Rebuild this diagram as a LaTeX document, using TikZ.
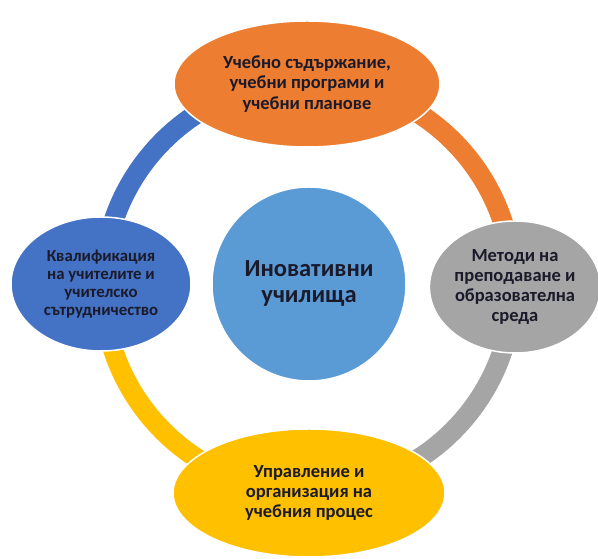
\documentclass[tikz,border=0pt]{standalone}
\usepackage{fontspec}
\setmainfont{Carlito}
\usetikzlibrary{shapes.geometric,backgrounds}
\definecolor{cOrange}{HTML}{ED7D31}
\definecolor{cGray}{HTML}{A5A5A5}
\definecolor{cYellow}{HTML}{FFC000}
\definecolor{cBlue}{HTML}{4472C4}
\definecolor{cCenter}{HTML}{5B9BD5}
\definecolor{cText}{HTML}{1A1A2A}
\begin{document}
\begin{tikzpicture}[x=1pt,y=1pt,
  blob/.style={ellipse, draw=white, line width=1.5pt, inner sep=0pt, align=center, text=cText},
  ringseg/.style={line width=20pt}]
\useasboundingbox (0,0) rectangle (598,559);
\coordinate (ringc) at (308,273);
\node[blob, fill=cCenter, minimum width=194pt, minimum height=194pt,
  font=\bfseries\fontsize{24.5}{26}\selectfont] (center) at (309,275) {Иновативни\\училища};
\node[blob, fill=cOrange, minimum width=266pt, minimum height=126pt,
  font=\bfseries\fontsize{18.5}{20.5}\selectfont] (top) at (307,475)
  {Учебно съдържание,\\учебни програми и\\учебни планове};
\node[blob, fill=cGray, minimum width=170pt, minimum height=132pt,
  font=\bfseries\fontsize{18.5}{20.3}\selectfont] (right) at (515,272)
  {Методи на\\преподаване и\\образователна\\среда};
\node[blob, fill=cYellow, minimum width=272pt, minimum height=128pt,
  font=\bfseries\fontsize{18.5}{20.3}\selectfont] (bottom) at (309,66)
  {Управление и\\организация на\\учебния процес};
\node[blob, fill=cBlue, minimum width=180pt, minimum height=134pt,
  font=\bfseries\fontsize{16.8}{18.2}\selectfont] (left) at (101,275)
  {Квалификация\\на учителите и\\учителско\\сътрудничество};
\begin{scope}[on background layer]
\fill[white] (0,0) rectangle (598,559);
\draw[ringseg, cOrange] ([yshift=205pt]ringc) arc[start angle=90, end angle=0, radius=205pt];
\draw[ringseg, cGray] ([xshift=205pt]ringc) arc[start angle=0, end angle=-90, radius=205pt];
\draw[ringseg, cYellow] ([yshift=-205pt]ringc) arc[start angle=270, end angle=180, radius=205pt];
\draw[ringseg, cBlue] ([xshift=-205pt]ringc) arc[start angle=180, end angle=90, radius=205pt];
\end{scope}
\end{tikzpicture}
\end{document}
